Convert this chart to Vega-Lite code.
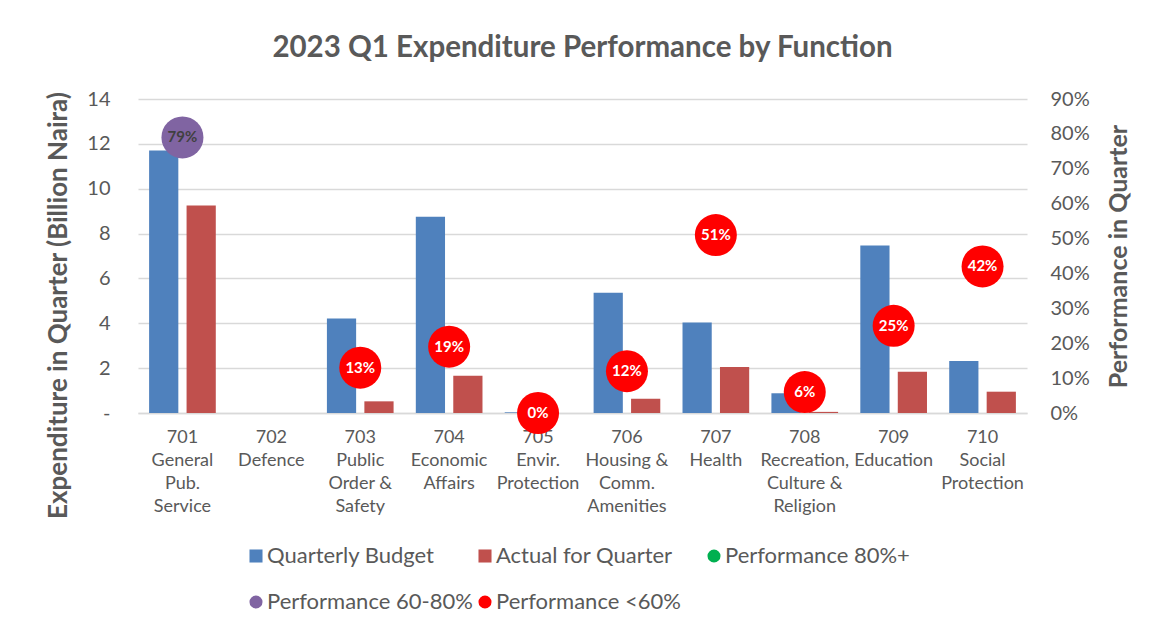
{
  "$schema": "https://vega.github.io/schema/vega-lite/v6.json",
  "width": 889,
  "height": 314,
  "autosize": {"type": "none"},
  "padding": {"left": 138, "top": 99, "right": 132, "bottom": 219},
  "background": "white",
  "title": {
    "text": "2023 Q1 Expenditure Performance by Function",
    "font": "Lato",
    "fontSize": 29.5,
    "fontWeight": "bold",
    "color": "#595959",
    "anchor": "middle",
    "baseline": "alphabetic",
    "offset": 3
  },
  "datasets": {
    "bars": [
      {"function": "701|General|Pub.|Service", "series": "Quarterly Budget", "value": 11.7},
      {"function": "701|General|Pub.|Service", "series": "Actual for Quarter", "value": 9.25},
      {"function": "702|Defence", "series": "Quarterly Budget", "value": 0},
      {"function": "702|Defence", "series": "Actual for Quarter", "value": 0},
      {"function": "703|Public|Order &|Safety", "series": "Quarterly Budget", "value": 4.21},
      {"function": "703|Public|Order &|Safety", "series": "Actual for Quarter", "value": 0.52},
      {"function": "704|Economic|Affairs", "series": "Quarterly Budget", "value": 8.75},
      {"function": "704|Economic|Affairs", "series": "Actual for Quarter", "value": 1.66},
      {"function": "705|Envir.|Protection", "series": "Quarterly Budget", "value": 0.03},
      {"function": "705|Envir.|Protection", "series": "Actual for Quarter", "value": 0},
      {"function": "706|Housing &|Comm.|Amenities", "series": "Quarterly Budget", "value": 5.36},
      {"function": "706|Housing &|Comm.|Amenities", "series": "Actual for Quarter", "value": 0.63},
      {"function": "707|Health", "series": "Quarterly Budget", "value": 4.03},
      {"function": "707|Health", "series": "Actual for Quarter", "value": 2.05},
      {"function": "708|Recreation,|Culture &|Religion", "series": "Quarterly Budget", "value": 0.88},
      {"function": "708|Recreation,|Culture &|Religion", "series": "Actual for Quarter", "value": 0.05},
      {"function": "709|Education", "series": "Quarterly Budget", "value": 7.47},
      {"function": "709|Education", "series": "Actual for Quarter", "value": 1.84},
      {"function": "710|Social|Protection", "series": "Quarterly Budget", "value": 2.32},
      {"function": "710|Social|Protection", "series": "Actual for Quarter", "value": 0.95}
    ],
    "perf": [
      {"function": "701|General|Pub.|Service", "series": "Performance 60-80%", "perf": 0.79},
      {"function": "703|Public|Order &|Safety", "series": "Performance <60%", "perf": 0.13},
      {"function": "704|Economic|Affairs", "series": "Performance <60%", "perf": 0.19},
      {"function": "705|Envir.|Protection", "series": "Performance <60%", "perf": 0.0},
      {"function": "706|Housing &|Comm.|Amenities", "series": "Performance <60%", "perf": 0.12},
      {"function": "707|Health", "series": "Performance <60%", "perf": 0.51},
      {"function": "708|Recreation,|Culture &|Religion", "series": "Performance <60%", "perf": 0.06},
      {"function": "709|Education", "series": "Performance <60%", "perf": 0.25},
      {"function": "710|Social|Protection", "series": "Performance <60%", "perf": 0.42}
    ]
  },
  "layer": [
    {
      "data": {"name": "bars"},
      "mark": {"type": "bar"},
      "encoding": {
        "x": {
          "field": "function",
          "type": "nominal",
          "sort": null,
          "scale": {"paddingInner": 0.25, "paddingOuter": 0.125},
          "axis": {
            "title": null,
            "labelAngle": 0,
            "labelExpr": "split(datum.label, '|')",
            "labelFont": "Lato",
            "labelFontSize": 18,
            "labelColor": "#595959",
            "labelLineHeight": 23,
            "labelPadding": 15,
            "labelLimit": 0,
            "labelOverlap": false,
            "ticks": false,
            "domainColor": "#D9D9D9",
            "domainWidth": 1.5
          }
        },
        "xOffset": {
          "field": "series",
          "type": "nominal",
          "sort": null,
          "scale": {"domain": ["Quarterly Budget", "Actual for Quarter"], "paddingInner": 0.22}
        },
        "y": {
          "field": "value",
          "type": "quantitative",
          "scale": {"domain": [0, 14]},
          "axis": {
            "values": [0, 2, 4, 6, 8, 10, 12, 14],
            "labelExpr": "datum.value === 0 ? '-' : datum.label",
            "labelFont": "Lato",
            "labelFontSize": 20,
            "labelColor": "#595959",
            "labelPadding": 28,
            "labelOverlap": false,
            "labelFlush": false,
            "ticks": false,
            "domain": false,
            "grid": true,
            "gridColor": "#D9D9D9",
            "gridWidth": 1.5,
            "title": "Expenditure in Quarter (Billion Naira)",
            "titleFont": "Lato",
            "titleFontSize": 26,
            "titleFontWeight": "bold",
            "titleColor": "#595959",
            "titleAngle": 270,
            "titleX": -80,
            "titleY": 206,
            "titleAlign": "center",
            "titleBaseline": "middle",
            "titleLimit": 0
          }
        },
        "color": {
          "field": "series",
          "type": "nominal",
          "scale": {
            "domain": ["Quarterly Budget", "Actual for Quarter", "Performance 80%+", "Performance 60-80%", "Performance <60%"],
            "range": ["#4F81BD", "#C0504D", "#00B050", "#8064A2", "#FF0000"]
          },
          "legend": {
            "title": null,
            "orient": "none",
            "legendX": 107,
            "legendY": 446,
            "columns": 3,
            "direction": "horizontal",
            "gridAlign": "all",
            "labelFont": "Lato",
            "labelFontSize": 22,
            "labelColor": "#595959",
            "labelOffset": 0,
            "symbolSize": 170,
            "symbolStrokeWidth": 0,
            "rowPadding": 24,
            "columnPadding": 1,
            "labelLimit": 0
          }
        }
      }
    },
    {
      "data": {"name": "perf"},
      "encoding": {
        "x": {"field": "function", "type": "nominal", "sort": null},
        "y": {
          "field": "perf",
          "type": "quantitative",
          "scale": {"domain": [0, 0.9]},
          "axis": {
            "orient": "right",
            "values": [0, 0.1, 0.2, 0.3, 0.4, 0.5, 0.6, 0.7, 0.8, 0.9],
            "format": ".0%",
            "labelFont": "Lato",
            "labelFontSize": 20,
            "labelColor": "#595959",
            "labelPadding": 23,
            "labelOverlap": false,
            "labelFlush": false,
            "ticks": false,
            "domain": false,
            "grid": false,
            "title": "Performance in Quarter",
            "titleFont": "Lato",
            "titleFontSize": 25,
            "titleFontWeight": "bold",
            "titleColor": "#595959",
            "titleAngle": 270,
            "titleX": 91,
            "titleY": 157,
            "titleAlign": "center",
            "titleBaseline": "middle",
            "titleLimit": 0
          }
        }
      },
      "layer": [
        {
          "mark": {"type": "point", "filled": true, "opacity": 1, "size": 1764},
          "encoding": {
            "color": {"field": "series", "type": "nominal"},
            "shape": {
              "field": "series",
              "type": "nominal",
              "scale": {
                "domain": ["Quarterly Budget", "Actual for Quarter", "Performance 80%+", "Performance 60-80%", "Performance <60%"],
                "range": ["square", "square", "circle", "circle", "circle"]
              }
            }
          }
        },
        {
          "mark": {"type": "text", "font": "Lato", "fontWeight": "bold", "fontSize": 15},
          "encoding": {
            "text": {"field": "perf", "type": "quantitative", "format": ".0%"},
            "color": {
              "condition": {"test": "datum.series === 'Performance 60-80%'", "value": "#404040"},
              "value": "#FFFFFF"
            }
          }
        }
      ]
    }
  ],
  "resolve": {"scale": {"y": "independent"}},
  "config": {"view": {"stroke": null}}
}
